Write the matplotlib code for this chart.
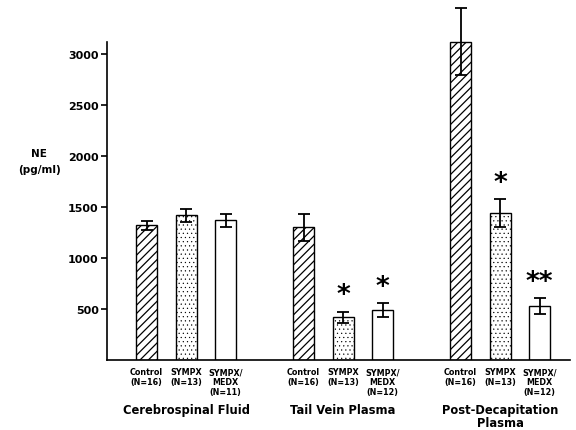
import matplotlib
matplotlib.use("Agg")
import matplotlib.pyplot as plt

plt.rcParams['font.family'] = ['DejaVu Sans']
plt.rcParams['hatch.linewidth'] = 0.9

groups = ['Cerebrospinal Fluid', 'Tail Vein Plasma', 'Post-Decapitation\nPlasma']
treatments = ['Control', 'SYMPX', 'SYMPX/\nMEDX']
n_labels = [
    ['(N=16)', '(N=13)', '(N=11)'],
    ['(N=16)', '(N=13)', '(N=12)'],
    ['(N=16)', '(N=13)', '(N=12)'],
]
control = [1320, 1300, 3120]
sympx = [1420, 420, 1440]
sympx_medx = [1370, 490, 530]
control_err = [45, 130, 330]
sympx_err = [65, 55, 140]
sympx_medx_err = [65, 70, 75]
marks = [['', '', ''], ['', '*', '*'], ['', '*', '**']]

fig = plt.figure(figsize=(5.76, 4.31), dpi=100)
ax = fig.add_axes([0.186, 0.1624, 0.804, 0.826])

offset = 0.252
width = 0.135
series = [(control, control_err, '////', 0.9),
          (sympx, sympx_err, '....', 0.35),
          (sympx_medx, sympx_medx_err, '', 0.9)]

for k, (vals, errs, hatch, hlw) in enumerate(series):
    for g in range(3):
        x = g + (k - 1) * offset
        bars = ax.bar(x, vals[g], width, color='white', edgecolor='black',
                      hatch=hatch, linewidth=1.0, zorder=2)
        for b in bars:
            b.set_hatch_linewidth(hlw)
        ax.errorbar(x, vals[g], yerr=errs[g], color='black', capsize=4.5,
                    capthick=1.3, elinewidth=1.3, zorder=3, clip_on=False)
        if marks[g][k]:
            ax.text(x, vals[g] + errs[g] + 30, marks[g][k], ha='center',
                    va='bottom', fontsize=19, fontweight='bold')
        # treatment label below bar
        lines = treatments[k].split('\n') + [n_labels[g][k]]
        for j, t in enumerate(lines):
            ax.text(x, -70 - j * 95, t, ha='center', va='top', fontsize=5.8,
                    fontweight='bold', clip_on=False)

for g in range(3):
    ax.text(g, -420, groups[g], ha='center', va='top', fontsize=8.3,
            fontweight='bold', linespacing=1.0)

ax.set_xlim(-0.503, 2.446)
ax.set_ylim(0, 3490)
ax.set_yticks([500, 1000, 1500, 2000, 2500, 3000])
ax.set_yticklabels(['500', '1000', '1500', '2000', '2500', '3000'],
                   fontweight='bold', fontsize=8)
ax.set_xticks([])
ax.spines['top'].set_visible(False)
ax.spines['right'].set_visible(False)
ax.spines['left'].set_bounds(0, 3120)
ax.spines['left'].set_linewidth(1.2)
ax.spines['bottom'].set_linewidth(1.2)
ax.tick_params(axis='y', direction='out', length=4, width=1.2, pad=2)

fig.text(0.068, 0.635, 'NE', ha='center', fontsize=7.5, fontweight='bold')
fig.text(0.068, 0.598, '(pg/ml)', ha='center', fontsize=7.5, fontweight='bold')

fig.savefig('out.png', dpi=100)
